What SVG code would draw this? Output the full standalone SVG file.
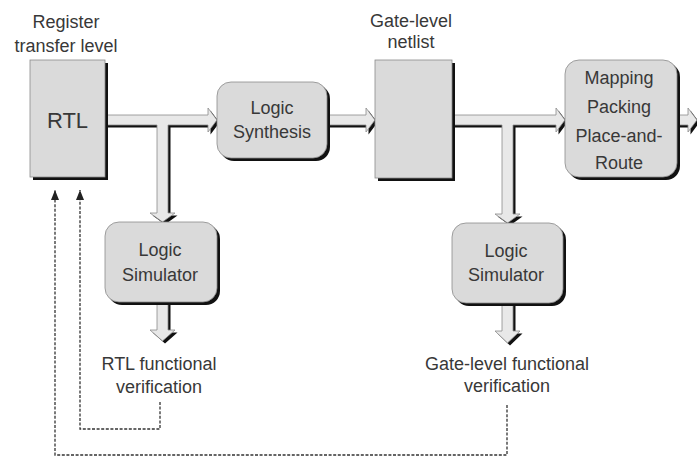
<svg xmlns="http://www.w3.org/2000/svg" width="697" height="464" viewBox="0 0 697 464">
  <defs>
    <style>
      .t { font-family: "Liberation Sans", Arial, sans-serif; font-size: 18px; fill: #383838; text-anchor: middle; }
      .big { font-size: 22px; }
      .box { fill: #dadada; stroke: #8a8a8a; stroke-width: 0.8; }
      .shadow { fill: #111; }
      .fat { fill: #e8e8e8; stroke: #8a8a8a; stroke-width: 0.8; stroke-linejoin: round; }
      .fatsh { fill: #111; }
      .dash { fill: none; stroke: #333; stroke-width: 1.3; stroke-dasharray: 3 1.6; }
    </style>
    <marker id="ah" viewBox="0 0 10 8" refX="10" refY="4" markerWidth="10" markerHeight="8" markerUnits="userSpaceOnUse" orient="auto">
      <path d="M0,0 L10,4 L0,8 Z" fill="#222"/>
    </marker>
  </defs>

  <rect width="697" height="464" fill="#ffffff"/>

  <g id="connectors">
    <g transform="translate(2.5,2.5)">
      <path class="fatsh" d="M105,115 H208 V108 L217,120 L208,132 V125 H168 V213 H175 L162.5,222 L150,213 H157 V125 H105 Z"/>
      <path class="fatsh" d="M327,115 H366 V108 L375,120 L366,132 V125 H327 Z"/>
      <path class="fatsh" d="M452,115 H556 V108 L565,120 L556,132 V125 H513 V214 H520 L507.5,223 L495,214 H502 V125 H452 Z"/>
      <path class="fatsh" d="M677,115 H688 V108 L697,120 L688,132 V125 H677 Z"/>
      <path class="fatsh" d="M157,302 V330 H150 L162.5,341 L175,330 H168 V302 Z"/>
      <path class="fatsh" d="M502,303 V331 H495 L507.5,343 L520,331 H513 V303 Z"/>
    </g>
    <path class="fat" d="M105,115 H208 V108 L217,120 L208,132 V125 H168 V213 H175 L162.5,222 L150,213 H157 V125 H105 Z"/>
    <path class="fat" d="M327,115 H366 V108 L375,120 L366,132 V125 H327 Z"/>
    <path class="fat" d="M452,115 H556 V108 L565,120 L556,132 V125 H513 V214 H520 L507.5,223 L495,214 H502 V125 H452 Z"/>
    <path class="fat" d="M677,115 H688 V108 L697,120 L688,132 V125 H677 Z"/>
    <path class="fat" d="M157,302 V330 H150 L162.5,341 L175,330 H168 V302 Z"/>
    <path class="fat" d="M502,303 V331 H495 L507.5,343 L520,331 H513 V303 Z"/>

    <path class="dash" d="M507,405 V455 H55 V190" marker-end="url(#ah)"/>
    <path class="dash" d="M160,402 V429 H80 V190" marker-end="url(#ah)"/>
  </g>

  <g id="rtl">
    <rect class="shadow" x="33" y="63" width="75" height="117"/>
    <rect class="box" x="30" y="60" width="75" height="117"/>
    <text class="t big" x="67.5" y="128">RTL</text>
    <text class="t" x="66" y="28">Register</text>
    <text class="t" x="66" y="52">transfer level</text>
  </g>

  <g id="logic-synthesis">
    <rect class="shadow" x="220" y="85" width="110" height="76" rx="14"/>
    <rect class="box" x="217" y="82" width="110" height="76" rx="14"/>
    <text class="t" x="272" y="114">Logic</text>
    <text class="t" x="272" y="138">Synthesis</text>
  </g>

  <g id="netlist">
    <rect class="shadow" x="378" y="63" width="77" height="118"/>
    <rect class="box" x="375" y="60" width="77" height="118"/>
    <text class="t" x="411" y="27">Gate-level</text>
    <text class="t" x="411" y="48">netlist</text>
  </g>

  <g id="mapping">
    <rect class="shadow" x="568" y="63" width="112" height="117" rx="14"/>
    <rect class="box" x="565" y="60" width="112" height="117" rx="14"/>
    <text class="t" x="619" y="84">Mapping</text>
    <text class="t" x="619" y="113">Packing</text>
    <text class="t" x="619" y="142">Place-and-</text>
    <text class="t" x="619" y="169">Route</text>
  </g>

  <g id="logic-simulator-1">
    <rect class="shadow" x="108" y="225" width="112" height="80" rx="14"/>
    <rect class="box" x="105" y="222" width="112" height="80" rx="14"/>
    <text class="t" x="160" y="256">Logic</text>
    <text class="t" x="160" y="281">Simulator</text>
  </g>

  <g id="logic-simulator-2">
    <rect class="shadow" x="455" y="226" width="111" height="80" rx="14"/>
    <rect class="box" x="452" y="223" width="111" height="80" rx="14"/>
    <text class="t" x="506" y="257">Logic</text>
    <text class="t" x="506" y="281">Simulator</text>
  </g>

  <g id="rtl-verification">
    <text class="t" x="159" y="370">RTL functional</text>
    <text class="t" x="159" y="393">verification</text>
  </g>

  <g id="gate-verification">
    <text class="t" x="507" y="370">Gate-level functional</text>
    <text class="t" x="507" y="392">verification</text>
  </g>
</svg>
